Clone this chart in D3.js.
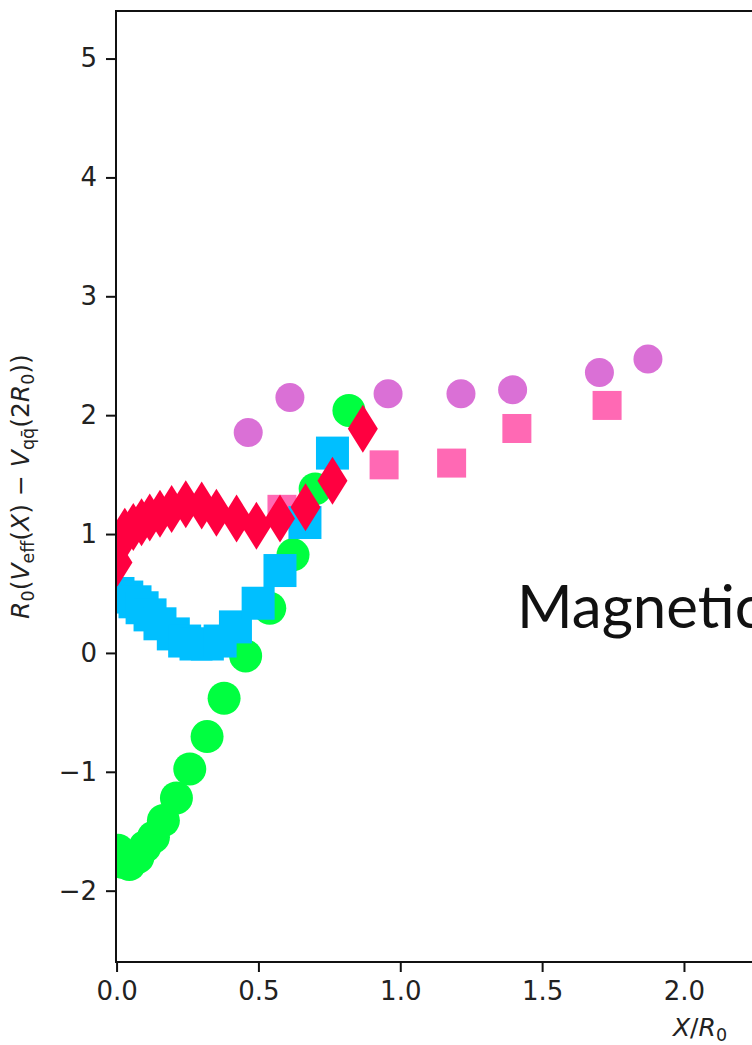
<!DOCTYPE html>
<html>
<head>
    <meta charset="utf-8">
    <title>Effective potential</title>
    <script src="https://cdn.jsdelivr.net/npm/d3@7" charset="utf-8"></script>
    <style>
        body {
            margin: 0;
            background: #fff;
        }
        svg {
            display: block;
            overflow: hidden;
        }
        .tick text {
            font-family: "DejaVu Sans", sans-serif;
            font-size: 26px;
            fill: #222;
        }
        .axis-label {
            font-family: "DejaVu Sans", sans-serif;
            font-size: 25px;
            fill: #222;
        }
        .overlay-text {
            font-family: Lato, sans-serif;
            font-size: 60px;
            fill: #111;
        }
    </style>
</head>
<body>
    <svg width="752" height="1045" id="mainsvg"></svg>
    <script>
        // series (X/R0, value)
        const purpleX = [0.464, 0.611, 0.957, 1.214, 1.396, 1.702, 1.873];
        const purpleY = [1.854, 2.149, 2.18, 2.18, 2.214, 2.36, 2.472];

        const pinkX = [0.583, 0.943, 1.181, 1.411, 1.729];
        const pinkY = [1.208, 1.582, 1.597, 1.888, 2.082];

        const greenX = [0.005, 0.02, 0.045, 0.075, 0.10, 0.13, 0.165, 0.211, 0.258, 0.319, 0.379, 0.455, 0.540, 0.622, 0.70, 0.819];
        const greenY = [-1.66, -1.76, -1.78, -1.72, -1.63, -1.55, -1.41, -1.22, -0.976, -0.704, -0.381, -0.025, 0.376, 0.825, 1.38, 2.04];

        const blueX = [0.005, 0.036, 0.065, 0.09, 0.118, 0.153, 0.20, 0.24, 0.28, 0.32, 0.365, 0.419, 0.499, 0.576, 0.664, 0.761];
        const blueY = [0.50, 0.47, 0.43, 0.38, 0.32, 0.245, 0.16, 0.10, 0.075, 0.075, 0.10, 0.219, 0.418, 0.693, 1.097, 1.681];

        const redX = [0.003, 0.012, 0.029, 0.059, 0.088, 0.117, 0.153, 0.194, 0.244, 0.30, 0.352, 0.423, 0.493, 0.576, 0.666, 0.761, 0.868];
        const redY = [0.76, 0.92, 1.02, 1.06, 1.10, 1.14, 1.17, 1.21, 1.25, 1.24, 1.18, 1.13, 1.07, 1.13, 1.226, 1.448, 1.886];

        const xTicks = [0, 0.5, 1.0, 1.5, 2.0, 2.5, 3.0, 3.5, 4.0];
        const yTicks = [-2, -1, 0, 1, 2, 3, 4, 5];

        const svg = d3.select('#mainsvg');
        const margin = { top: 11, left: 116 };
        const innerWidth = 1168;   // axes run on past the right edge of the picture
        const innerHeight = 951;

        const g = svg.append('g')
            .attr('transform', `translate(${margin.left}, ${margin.top})`);

        const xScale = d3.scaleLinear()
            .domain([-0.002, 4.115])
            .range([0, innerWidth]);

        const yScale = d3.scaleLinear()
            .domain([-2.6, 5.4])
            .range([innerHeight, 0]);

        svg.append('defs').append('clipPath')
            .attr('id', 'plot-clip')
            .append('rect')
            .attr('width', innerWidth)
            .attr('height', innerHeight);

        const marks = g.append('g').attr('clip-path', 'url(#plot-clip)');

        const zip = (xs, ys) => xs.map((x, i) => ({ x: x, y: ys[i] }));

        function drawCircles(data, r, color) {
            marks.append('g').selectAll('circle')
                .data(data)
                .enter()
                .append('circle')
                    .attr('cx', d => xScale(d.x))
                    .attr('cy', d => yScale(d.y))
                    .attr('r', r)
                    .attr('fill', color);
        }

        function drawSquares(data, side, color) {
            marks.append('g').selectAll('rect')
                .data(data)
                .enter()
                .append('rect')
                    .attr('x', d => xScale(d.x) - side / 2)
                    .attr('y', d => yScale(d.y) - side / 2)
                    .attr('width', side)
                    .attr('height', side)
                    .attr('fill', color);
        }

        function drawDiamonds(data, w, h, color) {
            const shape = `M0,${-h / 2}L${w / 2},0L0,${h / 2}L${-w / 2},0Z`;
            marks.append('g').selectAll('path')
                .data(data)
                .enter()
                .append('path')
                    .attr('d', shape)
                    .attr('transform', d => `translate(${xScale(d.x)}, ${yScale(d.y)})`)
                    .attr('fill', color);
        }

        drawCircles(zip(purpleX, purpleY), 14.5, '#da70d6');
        drawSquares(zip(pinkX, pinkY), 29, '#ff69b4');
        drawCircles(zip(greenX, greenY), 16.5, '#00ff40');
        drawSquares(zip(blueX, blueY), 33, '#00bfff');
        drawDiamonds(zip(redX, redY), 30, 48, '#ff0040');

        // axes
        const xAxis = d3.axisBottom(xScale)
            .tickValues(xTicks)
            .tickFormat(d3.format('.1f'))
            .tickSize(10)
            .tickPadding(10);
        const yAxis = d3.axisLeft(yScale)
            .tickValues(yTicks)
            .tickFormat(d => (d < 0 ? '\u2212' : '') + Math.abs(d))
            .tickSize(10)
            .tickPadding(9);

        const xg = g.append('g')
            .attr('transform', `translate(0, ${innerHeight})`)
            .call(xAxis);
        const yg = g.append('g')
            .call(yAxis);

        [xg, yg].forEach(a => {
            a.select('.domain').remove();
            a.selectAll('.tick line').attr('stroke', '#111').attr('stroke-width', 2);
        });

        // frame
        g.append('rect')
            .attr('width', innerWidth)
            .attr('height', innerHeight)
            .attr('fill', 'none')
            .attr('stroke', '#111')
            .attr('stroke-width', 2);

        // axis labels
        const xl = g.append('text')
            .attr('class', 'axis-label')
            .attr('x', innerWidth / 2)
            .attr('y', innerHeight + 74)
            .attr('text-anchor', 'middle');
        xl.append('tspan').attr('font-style', 'italic').text('X');
        xl.append('tspan').text('/');
        xl.append('tspan').attr('font-style', 'italic').text('R');
        xl.append('tspan').attr('font-size', '70%').attr('dy', 5).text('0');

        const yl = svg.append('text')
            .attr('class', 'axis-label')
            .attr('transform', `translate(29, ${margin.top + innerHeight / 2}) rotate(-90)`)
            .attr('text-anchor', 'middle');
        const parts = [
            ['R', 'italic'], ['0', 'sub'], ['(', ''], ['V', 'italic'], ['eff', 'sub'],
            ['(', ''], ['X', 'italic'], [') \u2212 ', ''], ['V', 'italic'], ['q\u0071\u0304', 'sub'],
            ['(2', ''], ['R', 'italic'], ['0', 'sub'], ['))', '']
        ];
        let lowered = false;
        parts.forEach(p => {
            const t = yl.append('tspan').text(p[0]);
            const isSub = p[1] === 'sub';
            if (p[1] === 'italic') t.attr('font-style', 'italic');
            if (isSub) t.attr('font-size', '70%');
            if (isSub && !lowered) { t.attr('dy', 5); lowered = true; }
            if (!isSub && lowered) { t.attr('dy', -5); lowered = false; }
        });

        // overlay caption from the slide
        svg.append('text')
            .attr('class', 'overlay-text')
            .attr('x', 517)
            .attr('y', 628)
            .text('Magnetic');
    </script>
</body>
</html>
